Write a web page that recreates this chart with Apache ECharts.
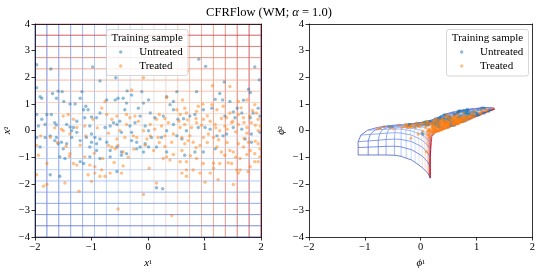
<!DOCTYPE html>
<html><head><meta charset="utf-8">
<script src="https://cdn.jsdelivr.net/npm/echarts@6/dist/echarts.min.js"></script>
<style>html,body{margin:0;padding:0;background:#fff}#c{width:538px;height:274px}</style>
</head><body><div id="c"></div>
<script>
// ---------------- data ----------------
const X_TICKS = [-2, -1, 0, 1, 2];
const Y_TICKS = [-4, -3, -2, -1, 0, 1, 2, 3, 4];
const GRID_N = 20; // grid lines per direction (linspace)

// Untreated training sample (x1, x2)
const U_X1 = [-1.97,-1.72,-0.98,-0.85,-0.57,0.90,1.02,1.89,1.97,1.35,1.78,1.81,1.27,1.32,1.45,1.58,1.69,-1.97,-1.91,-1.88,-1.69,-1.59,-1.52,-1.62,-1.49,-1.17,-1.20,-1.38,-1.29,-1.10,-1.06,-1.14,-1.00,-0.91,-0.85,-0.73,-0.58,-0.53,-0.44,-0.37,-0.29,-0.41,-0.38,-0.11,-0.08,0.01,-0.14,-0.17,0.04,0.12,0.27,0.33,0.39,0.45,0.51,0.45,0.53,0.63,0.74,0.86,0.83,0.98,1.13,1.19,1.36,1.51,1.54,1.66,1.81,1.86,1.98,1.95,-1.97,-1.88,-1.79,-1.71,-1.65,-1.62,-1.82,-1.94,-1.44,-1.38,-1.32,-1.35,-1.26,-1.12,-1.03,-1.00,-0.94,-1.09,-1.00,-0.91,-0.85,-0.76,-0.67,-0.61,-0.55,-0.50,-0.47,-0.32,-0.29,-0.23,-0.05,0.01,0.06,-0.14,-0.05,-0.08,0.01,0.15,0.24,0.33,0.45,0.51,0.60,0.68,0.89,1.01,1.10,1.22,1.33,1.39,1.51,1.66,1.83,1.98,-1.82,-1.73,-1.62,-1.59,-1.53,-1.65,-1.44,-1.35,-1.26,-1.20,-1.03,-0.91,-0.67,-0.55,-0.47,-0.38,-0.20,0.33,0.65,0.83,0.98,1.19,1.72,1.83,-1.56,-1.47,-1.20,-1.14,-0.85,-0.67,-0.55,-0.47,-0.29,-0.20,-0.73,-1.73,-1.56,0.15,0.26,-1.97,-1.91,-1.50,-1.03];
const U_X2 = [2.47,2.31,2.39,1.86,1.98,2.68,2.41,2.39,1.90,1.82,1.55,1.43,1.39,1.15,1.09,0.84,1.14,1.61,1.27,1.21,1.39,1.48,1.46,1.21,1.09,1.46,1.21,1.00,1.00,0.91,0.78,0.78,0.51,0.48,0.66,1.15,1.15,1.21,1.21,1.49,1.33,0.78,1.03,1.46,1.03,1.15,0.54,0.84,0.66,0.48,0.54,1.27,0.97,1.09,1.46,0.78,0.42,0.44,0.54,1.46,0.60,0.78,0.84,1.17,0.54,0.70,0.48,0.66,0.48,0.66,0.54,0.84,0.60,0.42,0.60,0.60,0.29,0.21,0.23,0.17,0.23,0.13,0.11,-0.01,0.35,0.48,0.17,-0.13,-0.26,-0.26,-0.44,-0.50,-0.32,0.11,0.17,0.29,0.23,0.35,-0.07,0.17,-0.07,0.29,0.17,-0.01,-0.26,-0.62,-0.50,-0.81,-0.62,-0.62,-0.26,-0.01,0.23,-0.20,-0.32,-0.01,0.11,0.11,0.05,-0.20,-0.20,-0.13,0.11,0.05,-0.13,-0.07,-0.26,-0.20,-0.26,-0.50,-0.44,-0.38,-0.50,-0.26,-0.07,-0.38,-0.62,-0.75,-0.75,-0.62,-0.81,-0.87,-0.69,-0.81,-0.93,-0.81,-0.81,-0.69,-0.32,-0.44,-0.99,-1.05,-1.17,-1.24,-1.05,-0.99,-1.54,-0.93,-0.38,-0.44,-0.44,-1.66,-1.72,-2.15,-2.19,-0.26,-0.62,-0.69,-0.99];

// Treated training sample (x1, x2)
const T_X1 = [-0.08,0.70,1.14,1.45,-0.29,0.33,0.61,0.65,0.89,0.97,1.13,1.22,1.33,1.45,1.60,1.75,1.89,1.92,1.69,1.83,1.95,1.99,-0.76,-0.82,-0.73,-0.64,-0.55,-0.38,-0.32,-0.23,-0.97,-1.12,-1.50,-1.41,-1.32,-1.53,-1.50,-1.38,-1.26,-1.97,-1.94,-1.73,-1.79,-1.97,-1.85,-1.79,-1.47,-1.38,-1.39,-1.32,-1.26,-1.12,-1.03,-0.94,-1.06,-1.00,-1.22,-0.94,-0.82,-0.85,-0.76,-0.67,-0.70,-0.64,-0.58,-0.53,-0.44,-0.55,-0.41,-0.38,-0.26,-0.20,-0.17,-0.08,-0.02,0.04,0.12,0.18,0.30,0.27,0.33,0.39,0.42,0.60,0.65,0.71,0.74,0.80,0.92,0.98,1.07,1.16,1.22,1.30,1.36,1.45,1.51,1.60,1.69,1.78,1.81,1.89,1.98,1.95,1.81,1.57,1.48,1.27,1.16,1.10,0.98,0.86,0.68,0.60,0.68,0.80,1.24,1.51,1.63,1.75,1.60,1.48,1.36,1.27,1.19,1.10,0.98,0.86,0.77,0.65,0.57,0.45,0.36,0.24,0.15,0.04,0.57,0.68,0.51,0.86,1.39,-0.47,-0.53,-0.08,0.42,0.15,0.02,-0.44,0.92,1.01,1.60,1.77,1.16,1.42,1.63,1.89,1.98,0.57,0.68,1.50,1.70,1.90,1.30,1.05,0.85,0.70,1.60,1.80,1.20,1.40,1.55,1.75,1.95,0.95,0.55,0.30,0.20,1.65,1.85,1.25,1.40,1.70,1.90,1.05,0.85,0.60,0.45,1.55,1.75,1.95,0.75,0.30,0.10,-0.05,0.20,-1.60,-1.45,-1.90,-1.65,-1.20,-0.95,-0.80,-0.60,-0.35,-0.25,-1.10,-0.90,-0.70,-0.50];
const T_X2 = [1.98,2.24,1.68,1.65,1.52,1.24,1.15,0.84,0.91,0.99,0.97,0.78,0.91,0.66,1.09,1.15,0.97,0.66,0.48,0.29,0.42,0.17,1.09,0.84,0.60,0.42,0.54,0.60,0.48,0.54,0.42,0.17,0.54,0.60,0.42,0.05,-0.01,-0.13,0.11,-0.56,-0.93,-0.26,-1.24,-1.66,-2.09,-2.03,-1.97,-0.87,-0.97,-1.24,-1.30,-0.99,-1.30,-1.36,-1.66,-1.91,-2.28,-1.60,-1.48,-1.72,-1.72,-1.60,-0.56,-0.62,-0.69,-0.56,-0.81,-0.32,-0.26,0.23,-0.20,-0.26,0.35,-0.01,-0.32,-0.20,0.05,-0.26,-0.20,-1.05,-0.99,-1.11,-0.44,-0.26,-0.50,-0.38,-0.20,-0.44,-0.56,-0.26,-0.13,-0.26,-0.62,-0.81,-0.93,-0.75,-0.81,-0.50,-0.62,-0.44,-0.75,-0.87,-0.69,-1.17,-1.36,-1.48,-1.24,-1.24,-1.42,-1.60,-1.24,-1.05,-1.17,-1.60,-1.72,-1.48,-1.85,-2.03,-1.48,0.11,0.23,0.29,0.17,-0.01,0.23,0.35,0.42,0.29,0.11,0.23,0.11,-0.13,0.29,0.17,0.42,0.23,0.60,0.66,0.78,0.72,0.48,-1.60,-2.95,-2.40,-3.19,-1.97,-1.42,-1.33,-1.60,-1.94,-1.60,-1.54,-1.23,-1.21,-1.05,-1.17,-0.99,-1.17,-1.48,0.35,0.30,0.20,0.45,0.55,0.45,0.40,0.60,0.55,0.10,0.05,-0.05,-0.10,0.00,0.20,0.35,0.45,0.60,0.85,0.75,-0.35,-0.45,-0.30,-0.40,-0.45,-0.65,-0.75,-0.90,-1.00,-0.90,-0.50,-0.95,-0.60,-0.75,-0.55,-0.45,-0.45,-0.60,-0.20,0.10,-0.55,-0.85,-1.05,-1.20,-1.00,-0.70,-0.20,0.10,-0.10,0.00];

// Warped grid (right panel).
// Lower edge of the warped grid: image of x2 = -4, one node per x1 grid line
const BOT_P1 = [-1.12,-0.94,-0.76,-0.62,-0.47,-0.35,-0.26,-0.17,-0.10,-0.03,0.03,0.08,0.12,0.14,0.15,0.16,0.165,0.17,0.17,0.17];
const BOT_P2 = [-0.92,-0.92,-0.92,-0.92,-0.93,-0.97,-1.04,-1.10,-1.20,-1.30,-1.40,-1.50,-1.58,-1.64,-1.69,-1.73,-1.76,-1.78,-1.79,-1.79];
// Image of x1 = -2 (outer edge), one node per x2 grid line
const OUT_P1 = [-1.12,-1.12,-1.12,-1.07,-0.95,-0.78,-0.58,-0.35,-0.10,0.10,0.27,0.42,0.60,0.78,0.95,1.08,1.18,1.25,1.30,1.33];
const OUT_P2 = [-0.92,-0.64,-0.42,-0.17,0.01,0.11,0.18,0.22,0.27,0.33,0.45,0.60,0.71,0.78,0.82,0.85,0.86,0.86,0.84,0.82];
// Image of the middle x1 grid line
const MID_P1 = [0.03,0.03,0.03,0.02,0.01,0.03,0.10,0.20,0.33,0.45,0.58,0.72,0.86,0.99,1.10,1.19,1.25,1.29,1.32,1.33];
const MID_P2 = [-1.40,-0.97,-0.63,-0.36,-0.14,0.00,0.10,0.17,0.25,0.33,0.42,0.52,0.61,0.69,0.75,0.79,0.81,0.82,0.82,0.82];
// Image of x1 = 2 (inner edge)
const INN_P1 = [0.17,0.17,0.17,0.18,0.19,0.20,0.26,0.35,0.45,0.56,0.68,0.81,0.94,1.05,1.14,1.21,1.26,1.30,1.32,1.33];
const INN_P2 = [-1.79,-1.40,-1.05,-0.72,-0.45,-0.22,-0.08,0.00,0.08,0.16,0.26,0.37,0.48,0.57,0.65,0.71,0.75,0.78,0.80,0.81];
// how far up the lower-edge shape persists (per x2 grid line)
const F_T = [1,1,1,0.9,0.6,0.3,0.1,0,0,0,0,0,0,0,0,0,0,0,0,0];

// ---------------- styles ----------------
const FONT = 'Liberation Serif';
const CW = [[58,76,192],[98,130,234],[141,176,254],[184,208,249],[221,221,221],[245,196,173],[244,154,123],[222,96,77],[180,4,38]];
function coolwarm(f){
  f = Math.max(0, Math.min(1, f));
  const x = f * 8, i = Math.min(7, Math.floor(x)), r = x - i;
  const c = CW[i].map((v, k) => Math.round(v + (CW[i+1][k] - v) * r));
  return 'rgb(' + c.join(',') + ')';
}
const fmt = v => v < 0 ? '\u2212' + (-v) : String(v);

const GX = Array.from({length: GRID_N}, (_, k) => -2 + 4 * k / (GRID_N - 1));
const GY = Array.from({length: GRID_N}, (_, k) => -4 + 8 * k / (GRID_N - 1));

function meshNode(s, t){
  let A1, A2, C1, C2, u, b0, b1;
  if (s <= 10){ u = s/10; A1 = OUT_P1[t]; A2 = OUT_P2[t]; C1 = MID_P1[t]; C2 = MID_P2[t]; b0 = 0; b1 = 10; }
  else { u = (s-10)/9; A1 = MID_P1[t]; A2 = MID_P2[t]; C1 = INN_P1[t]; C2 = INN_P2[t]; b0 = 10; b1 = 19; }
  const d1 = BOT_P1[s] - ((1-u)*BOT_P1[b0] + u*BOT_P1[b1]);
  const d2 = BOT_P2[s] - ((1-u)*BOT_P2[b0] + u*BOT_P2[b1]);
  return [(1-u)*A1 + u*C1 + F_T[t]*d1, (1-u)*A2 + u*C2 + F_T[t]*d2];
}
const MESH = [];
for (let s = 0; s < GRID_N; s++){ MESH[s] = []; for (let t = 0; t < GRID_N; t++) MESH[s][t] = meshNode(s, t); }

function phi(x1, x2){
  const s = (x1 + 2) / 4 * (GRID_N - 1), t = (x2 + 4) / 8 * (GRID_N - 1);
  const s0 = Math.min(GRID_N - 2, Math.max(0, Math.floor(s)));
  const t0 = Math.min(GRID_N - 2, Math.max(0, Math.floor(t)));
  const a = s - s0, b = t - t0;
  const p00 = MESH[s0][t0], p10 = MESH[s0+1][t0], p01 = MESH[s0][t0+1], p11 = MESH[s0+1][t0+1];
  return [0, 1].map(k => (1-a)*(1-b)*p00[k] + a*(1-b)*p10[k] + (1-a)*b*p01[k] + a*b*p11[k]);
}

// ---------------- series ----------------
const series = [];
function lineS(ax, data, color, w, op){
  return {type: 'line', xAxisIndex: ax, yAxisIndex: ax, data, showSymbol: false, symbol: 'none',
    silent: true, animation: false, lineStyle: {color, width: w, opacity: op}, z: 1};
}
GX.forEach(x => series.push(lineS(0, [[x, -4], [x, 4]], coolwarm((x + 2) / 4), 1, 0.75)));
GY.forEach(y => series.push(lineS(0, [[-2, y], [2, y]], coolwarm((y + 4) / 8), 1, 0.75)));
for (let s = 0; s < GRID_N; s++) series.push(lineS(2, MESH[s], coolwarm((GX[s] + 2) / 4), 0.8, 0.9));
for (let t = 0; t < GRID_N; t++) series.push(lineS(2, MESH.map(col => col[t]), coolwarm((GY[t] + 4) / 8), 0.8, 0.9));

const U_LEFT = U_X1.map((v, i) => [v, U_X2[i]]);
const T_LEFT = T_X1.map((v, i) => [v, T_X2[i]]);
const U_RIGHT = U_X1.map((v, i) => phi(v, U_X2[i]));
const T_RIGHT = T_X1.map((v, i) => phi(v, T_X2[i]));
function scat(ax, data, color, size){
  return {type: 'scatter', xAxisIndex: ax, yAxisIndex: ax, data, symbolSize: size, silent: true, animation: false,
    itemStyle: {color, opacity: 0.5}, z: 3};
}
series.push(scat(0, U_LEFT, '#1f77b4', 3.4), scat(0, T_LEFT, '#ff7f0e', 3.4));
series.push(scat(2, U_RIGHT, '#1f77b4', 3.2), scat(2, T_RIGHT, '#ff7f0e', 3.2));

// ---------------- axes ----------------
const axStyle = {lineStyle: {color: '#000', width: 0.8}};
const rich = {
  i: {fontFamily: FONT, fontStyle: 'italic', fontSize: 11, color: '#000'},
  s: {fontFamily: FONT, fontSize: 9, color: '#000'}
};
function xAx(gi, name){
  return [{
    gridIndex: gi, type: 'value', min: -2, max: 2, interval: 1, position: 'bottom', z: 10,
    axisLine: {show: true, onZero: false, ...axStyle},
    axisTick: {show: true, inside: false, length: 3.5, ...axStyle},
    axisLabel: {formatter: fmt, fontFamily: FONT, fontSize: 10.5, color: '#000', margin: 5},
    splitLine: {show: false},
    name, nameLocation: 'middle', nameGap: 21, nameTextStyle: {rich}
  }, {
    gridIndex: gi, type: 'value', min: -2, max: 2, interval: 1, position: 'top', z: 10,
    axisLine: {show: true, onZero: false, ...axStyle}, axisTick: {show: false}, axisLabel: {show: false}, splitLine: {show: false}
  }];
}
function yAx(gi, name){
  return [{
    gridIndex: gi, type: 'value', min: -4, max: 4, interval: 1, position: 'left', z: 10,
    axisLine: {show: true, onZero: false, ...axStyle},
    axisTick: {show: true, inside: false, length: 3.5, ...axStyle},
    axisLabel: {formatter: fmt, fontFamily: FONT, fontSize: 10.5, color: '#000', margin: 5},
    splitLine: {show: false},
    name, nameLocation: 'middle', nameGap: 22, nameRotate: 90, nameTextStyle: {rich}
  }, {
    gridIndex: gi, type: 'value', min: -4, max: 4, interval: 1, position: 'right', z: 10,
    axisLine: {show: true, onZero: false, ...axStyle}, axisTick: {show: false}, axisLabel: {show: false}, splitLine: {show: false}
  }];
}

// ---------------- legends (drawn as graphics) ----------------
function legend(x, y, w, h, markX, textX){
  const tf = {fontFamily: FONT, fontSize: 11, fill: '#000'};
  return [
    {type: 'rect', z: 100, zlevel: 1, shape: {x, y, width: w, height: h, r: 2.5}, style: {fill: 'rgba(255,255,255,0.8)', stroke: '#cccccc', lineWidth: 0.8}},
    {type: 'text', z: 101, zlevel: 1, style: {...tf, text: 'Training sample', x: x + w/2, y: y + 8.5, textAlign: 'center', textVerticalAlign: 'middle'}},
    {type: 'circle', z: 101, zlevel: 1, shape: {cx: markX, cy: y + 22.5, r: 1.7}, style: {fill: '#1f77b4', opacity: 0.5}},
    {type: 'text', z: 101, zlevel: 1, style: {...tf, text: 'Untreated', x: textX, y: y + 22.5, textAlign: 'left', textVerticalAlign: 'middle'}},
    {type: 'circle', z: 101, zlevel: 1, shape: {cx: markX, cy: y + 36.5, r: 1.7}, style: {fill: '#ff7f0e', opacity: 0.5}},
    {type: 'text', z: 101, zlevel: 1, style: {...tf, text: 'Treated', x: textX, y: y + 36.5, textAlign: 'left', textVerticalAlign: 'middle'}}
  ];
}

const chart = echarts.init(document.getElementById('c'), null, {renderer: 'canvas'});
chart.setOption({
  animation: false,
  backgroundColor: '#fff',
  title: {
    text: '{n|CFRFlow (WM; }{i|α}{n| = 1.0)}', left: 'center', top: 1,
    textStyle: {fontWeight: 'normal', rich: {
      n: {fontFamily: FONT, fontSize: 12.5, fontWeight: 'normal', color: '#000'},
      i: {fontFamily: FONT, fontSize: 12.5, fontWeight: 'normal', fontStyle: 'italic', color: '#000'}
    }}
  },
  grid: [
    {left: 35, top: 24, width: 226, height: 218},
    {left: 309, top: 24, width: 225, height: 218}
  ],
  xAxis: [...xAx(0, '{i|x}{s|¹}'), ...xAx(1, '{i|ϕ}{s|¹}')],
  yAxis: [...yAx(0, '{i|x}{s|²}'), ...yAx(1, '{i|ϕ}{s|²}')],
  series,
  graphic: [...legend(106.5, 29.5, 81.5, 46, 120.7, 139.3), ...legend(446.5, 29.5, 82, 46.5, 461.7, 480)]
});
</script></body></html>
